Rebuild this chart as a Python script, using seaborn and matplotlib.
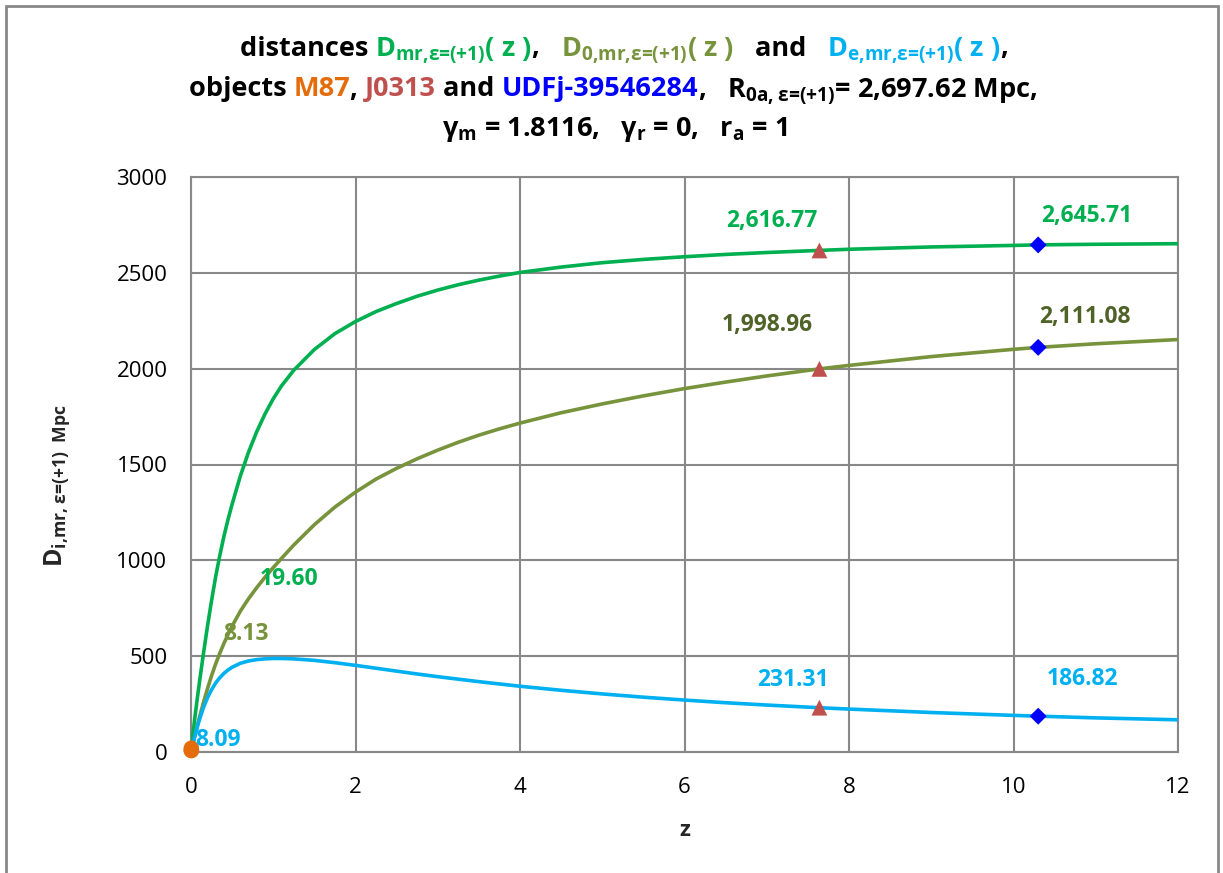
import matplotlib
matplotlib.use("Agg")
import matplotlib.pyplot as plt
import pandas as pd
import seaborn as sns
from matplotlib.offsetbox import TextArea, HPacker, AnchoredOffsetbox
from matplotlib.patches import Rectangle

# ---- curve samples (redshift z, distances in Mpc) ----
z = [0, 0.025, 0.05, 0.075, 0.1, 0.15, 0.2, 0.25, 0.3, 0.35, 0.4, 0.45, 0.5,
     0.6, 0.7, 0.8, 0.9, 1.0, 1.1, 1.25,
     1.5, 1.75, 2.0, 2.25, 2.5, 2.75, 3.0, 3.25, 3.5, 3.75, 4.0,
     4.5, 5.0, 5.5, 6.0, 6.5, 7.0, 7.64, 8.0, 9.0, 10.0, 10.3, 11.0, 12.0]
d_mr = [0, 100, 190, 275, 355, 510, 655, 790, 915, 1025, 1125, 1213, 1293,
        1440, 1565, 1672, 1764, 1843, 1910, 1992,
        2100, 2183, 2246, 2298, 2340, 2378, 2410, 2438, 2462, 2483, 2502,
        2530, 2553, 2570, 2584, 2596, 2606, 2617, 2623, 2635, 2643, 2646, 2649, 2652]
d_0 = [0, 46, 91, 134, 176, 256, 330, 398, 460, 515, 566, 613, 657,
       735, 800, 858, 912, 962, 1010, 1080,
       1186, 1278, 1356, 1424, 1480, 1530, 1575, 1616, 1653, 1686, 1716,
       1770, 1816, 1858, 1896, 1930, 1962, 1999, 2017, 2063, 2101, 2111, 2130, 2152]
d_e = [0, 45, 88, 128, 165, 230, 283, 325, 360, 388, 410, 428, 442,
       463, 475, 482, 486, 488, 488, 486,
       478, 466, 452, 437, 422, 407, 393, 380, 367, 355, 343,
       322, 303, 286, 271, 257, 245, 231, 224, 206, 191, 187, 178, 168]

# ---- marked objects ----
obj_names = ["M87", "J0313", "UDFj-39546284"]
obj_z = [0.00428, 7.64, 10.3]
obj_mr = [19.60, 2616.77, 2645.71]
obj_0 = [8.13, 1998.96, 2111.08]
obj_e = [8.09, 231.31, 186.82]

x_ticks = [0, 2, 4, 6, 8, 10, 12]
y_ticks = [0, 500, 1000, 1500, 2000, 2500, 3000]

C_MR, C_0, C_E = "#00B050", "#77933C", "#00B0F0"
C_0_DARK = "#4F6228"
OBJ_COLORS = {"M87": "#E46C0A", "J0313": "#C0504D", "UDFj-39546284": "#0000FF"}
OBJ_MARKERS = {"M87": "o", "J0313": "^", "UDFj-39546284": "D"}
OBJ_SIZES = {"M87": 125, "J0313": 130, "UDFj-39546284": 75}
GRID = "#888888"

sns.set_style("white")
FONT = "Open Sans"
plt.rcParams.update({
    "font.family": [FONT, "DejaVu Sans"],
    "mathtext.fontset": "custom",
    "mathtext.rm": f"{FONT}:bold",
    "mathtext.it": f"{FONT}:bold",
    "mathtext.bf": f"{FONT}:bold",
    "mathtext.sf": f"{FONT}:bold",
})

W, H = 1223, 873
fig = plt.figure(figsize=(W / 100, H / 100), dpi=100)
ax = fig.add_axes([191 / W, 121 / H, 987 / W, 575 / H])

curves = pd.DataFrame({
    "z": z * 3,
    "D": d_mr + d_0 + d_e,
    "series": ["mr"] * len(z) + ["0"] * len(z) + ["e"] * len(z),
})
sns.lineplot(data=curves, x="z", y="D", hue="series",
             palette={"mr": C_MR, "0": C_0, "e": C_E},
             linewidth=2.6, legend=False, ax=ax, zorder=3)

objs = pd.DataFrame({
    "name": obj_names * 3,
    "z": obj_z * 3,
    "D": obj_mr + obj_0 + obj_e,
})
for name in obj_names:
    sub = objs[objs["name"] == name]
    sns.scatterplot(data=sub, x="z", y="D", marker=OBJ_MARKERS[name],
                    color=OBJ_COLORS[name], s=OBJ_SIZES[name],
                    edgecolor="none", ax=ax, zorder=5, legend=False)
for coll in ax.collections:
    coll.set_clip_on(False)

# value labels: (value, z, colour, offset in pixels)
label_specs = [
    (obj_mr[0], obj_z[0], C_MR, (98, 169)),
    (obj_mr[1], obj_z[1], C_MR, (-48, 29)),
    (obj_mr[2], obj_z[2], C_MR, (49, 29)),
    (obj_0[0], obj_z[0], C_0, (55, 116)),
    (obj_0[1], obj_z[1], C_0_DARK, (-52, 44)),
    (obj_0[2], obj_z[2], C_0_DARK, (47, 30)),
    (obj_e[0], obj_z[0], C_E, (27, 10)),
    (obj_e[1], obj_z[1], C_E, (-26, 28)),
    (obj_e[2], obj_z[2], C_E, (44, 37)),
]
for val, zz, col, off in label_specs:
    ax.annotate(f"{val:,.2f}", xy=(zz, val), xytext=off, textcoords="offset pixels",
                ha="center", va="center", color=col, fontsize=16.5,
                fontweight="bold", zorder=6)

ax.set_xlim(0, 12)
ax.set_ylim(0, 3000)
ax.set_xticks(x_ticks)
ax.set_yticks(y_ticks)
ax.tick_params(axis="both", length=0, labelsize=16, colors="black")
ax.tick_params(axis="x", pad=18)
ax.tick_params(axis="y", pad=17)
ax.grid(True, color=GRID, linewidth=1.5)
ax.set_axisbelow(True)
for sp in ax.spines.values():
    sp.set_visible(True)
    sp.set_color(GRID)
    sp.set_linewidth(1.5)
ax.set_xlabel("")
ax.set_ylabel("")

fig.text(685 / W, 1 - 831 / H, "z", ha="center", va="center",
         fontsize=16, fontweight="bold")
fig.text(57 / W, 1 - 486 / H,
         r"D$_{\text{i,mr, ε=(+1)  Mpc}}$",
         rotation=90, ha="center", va="center", fontsize=18, fontweight="bold")


def title_line(pieces, y_px, x_px, size=19.5):
    boxes = [TextArea(txt, textprops=dict(color=col, fontsize=size, fontweight="bold"))
             for txt, col in pieces]
    row = HPacker(children=boxes, align="baseline", pad=0, sep=0)
    anchored = AnchoredOffsetbox(loc="center", child=row, frameon=False, pad=0,
                                 bbox_to_anchor=(x_px / W, 1 - y_px / H),
                                 bbox_transform=fig.transFigure, borderpad=0)
    ax.add_artist(anchored)
    anchored.set_clip_on(False)


title_line([
    ("distances ", "black"),
    (r"D$_{\text{mr,ε=(+1)}}$( z )", C_MR),
    (",   ", "black"),
    (r"D$_{\text{0,mr,ε=(+1)}}$( z )", C_0),
    ("   and   ", "black"),
    (r"D$_{\text{e,mr,ε=(+1)}}$( z )", C_E),
    (",", "black"),
], 50, 624)
title_line([
    ("objects ", "black"),
    ("M87", OBJ_COLORS["M87"]),
    (", ", "black"),
    ("J0313", OBJ_COLORS["J0313"]),
    (" and ", "black"),
    ("UDFj-39546284", OBJ_COLORS["UDFj-39546284"]),
    (r",   R$_{\text{0a, ε=(+1)}}$= 2,697.62 Mpc,", "black"),
], 91, 613)
title_line([
    (r"γ$_{\text{m}}$ = 1.8116,   γ$_{\text{r}}$ = 0,   r$_{\text{a}}$ = 1", "black"),
], 130, 615)

fig.patches.append(Rectangle((5.5 / W, -0.01), (1218 - 5.5) / W, 1.01 - 6 / H,
                             transform=fig.transFigure, fill=False,
                             edgecolor=GRID, linewidth=2))

fig.savefig("out.png", dpi=100)
